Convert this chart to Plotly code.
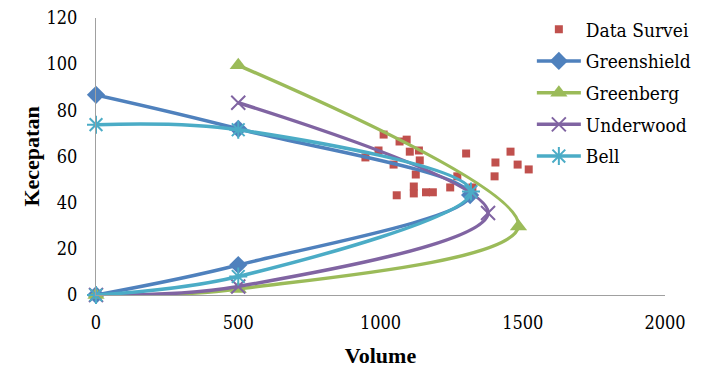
import plotly.graph_objects as go

# Survey data (Data Survei)
survey_volume = [1011, 1067, 1092, 993, 947, 1103, 1135, 1138, 1046, 1124, 1057,
                 1117, 1117, 1160, 1184, 1245, 1270, 1301, 1404, 1401, 1457, 1482,
                 1521, 1323]
survey_speed = [69.5, 66.5, 67.3, 62.6, 59.6, 62.1, 62.6, 58.3, 56.5, 52.2, 43.2,
                47.0, 44.0, 44.5, 44.5, 46.6, 51.4, 61.3, 57.4, 51.4, 62.1, 56.5,
                54.4, 46.6]

# Model curves (volume, speed)
greenshield_volume = [0, 500, 1315, 500, 0]
greenshield_speed = [86.7, 72.0, 43.3, 13.0, 0.0]

greenberg_volume = [500, 1485, 500, 0]
greenberg_speed = [99.5, 29.7, 2.6, 0.0]

underwood_volume = [500, 1378, 500, 0]
underwood_speed = [83.3, 35.5, 3.7, 0.0]

bell_volume = [0, 500, 1318, 500, 0]
bell_speed = [73.8, 71.6, 44.8, 8.0, 0.0]

x_ticks = [0, 500, 1000, 1500, 2000]
y_ticks = [0, 20, 40, 60, 80, 100, 120]

FONT = "DejaVu Serif Condensed, Liberation Serif, serif"
BOLD_FONT = "Liberation Serif"
RED = "#C0504D"
BLUE = "#4F81BD"
GREEN = "#9BBB59"
PURPLE = "#8064A2"
CYAN = "#4BACC6"

fig = go.Figure()
fig.add_trace(go.Scatter(
    x=survey_volume, y=survey_speed, mode="markers", name="Data Survei",
    legendgroup="a",
    marker=dict(symbol="square", size=8, color=RED), cliponaxis=False))
fig.add_trace(go.Scatter(
    x=greenshield_volume, y=greenshield_speed, mode="lines+markers", name="Greenshield",
    legendgroup="b",
    line=dict(color=BLUE, width=3.5, shape="spline", smoothing=1),
    marker=dict(symbol="diamond", size=14, color=BLUE), cliponaxis=False))
fig.add_trace(go.Scatter(
    x=greenberg_volume, y=greenberg_speed, mode="lines+markers", name="Greenberg",
    legendgroup="c",
    line=dict(color=GREEN, width=3.5, shape="spline", smoothing=1),
    marker=dict(symbol="triangle-up", size=15, color=GREEN), cliponaxis=False))
fig.add_trace(go.Scatter(
    x=underwood_volume, y=underwood_speed, mode="lines+markers", name="Underwood",
    legendgroup="d",
    line=dict(color=PURPLE, width=3.5, shape="spline", smoothing=1),
    marker=dict(symbol="x-thin-open", size=14, color=PURPLE,
                line=dict(color=PURPLE, width=2)), cliponaxis=False))
fig.add_trace(go.Scatter(
    x=bell_volume, y=bell_speed, mode="lines+markers", name="Bell",
    legendgroup="e",
    line=dict(color=CYAN, width=3.5, shape="spline", smoothing=1),
    marker=dict(symbol="asterisk-open", size=15, color=CYAN,
                line=dict(color=CYAN, width=2)), cliponaxis=False))

fig.update_layout(
    width=701, height=371,
    margin=dict(l=96, r=36, t=18, b=76, autoexpand=False),
    paper_bgcolor="white", plot_bgcolor="white",
    font=dict(family=FONT, size=19, color="black"),
    showlegend=True,
    legend=dict(x=0.766, y=0.972, xanchor="left", yanchor="top", yref="container",
                traceorder="grouped", tracegroupgap=4,
                itemwidth=44, font=dict(family=FONT, size=19),
                bgcolor="rgba(0,0,0,0)"),
    xaxis=dict(range=[0, 2000], tickvals=x_ticks, showgrid=False, zeroline=False,
               showline=True, linecolor="#A0A0A0", linewidth=1,
               ticks="outside", ticklen=11, tickcolor="rgba(0,0,0,0)",
               tickfont=dict(family=FONT, size=18),
               title=dict(text="<b>Volume</b>", font=dict(family=BOLD_FONT, size=22),
                          standoff=16)),
    yaxis=dict(range=[0, 120], tickvals=y_ticks, showgrid=False, zeroline=False,
               showline=True, linecolor="#A0A0A0", linewidth=1,
               ticks="outside", ticklen=14, tickcolor="rgba(0,0,0,0)",
               tickfont=dict(family=FONT, size=18),
               title=dict(text="<b>Kecepatan</b>", font=dict(family=BOLD_FONT, size=22),
                          standoff=0)),
)

fig.write_html("out.html")
